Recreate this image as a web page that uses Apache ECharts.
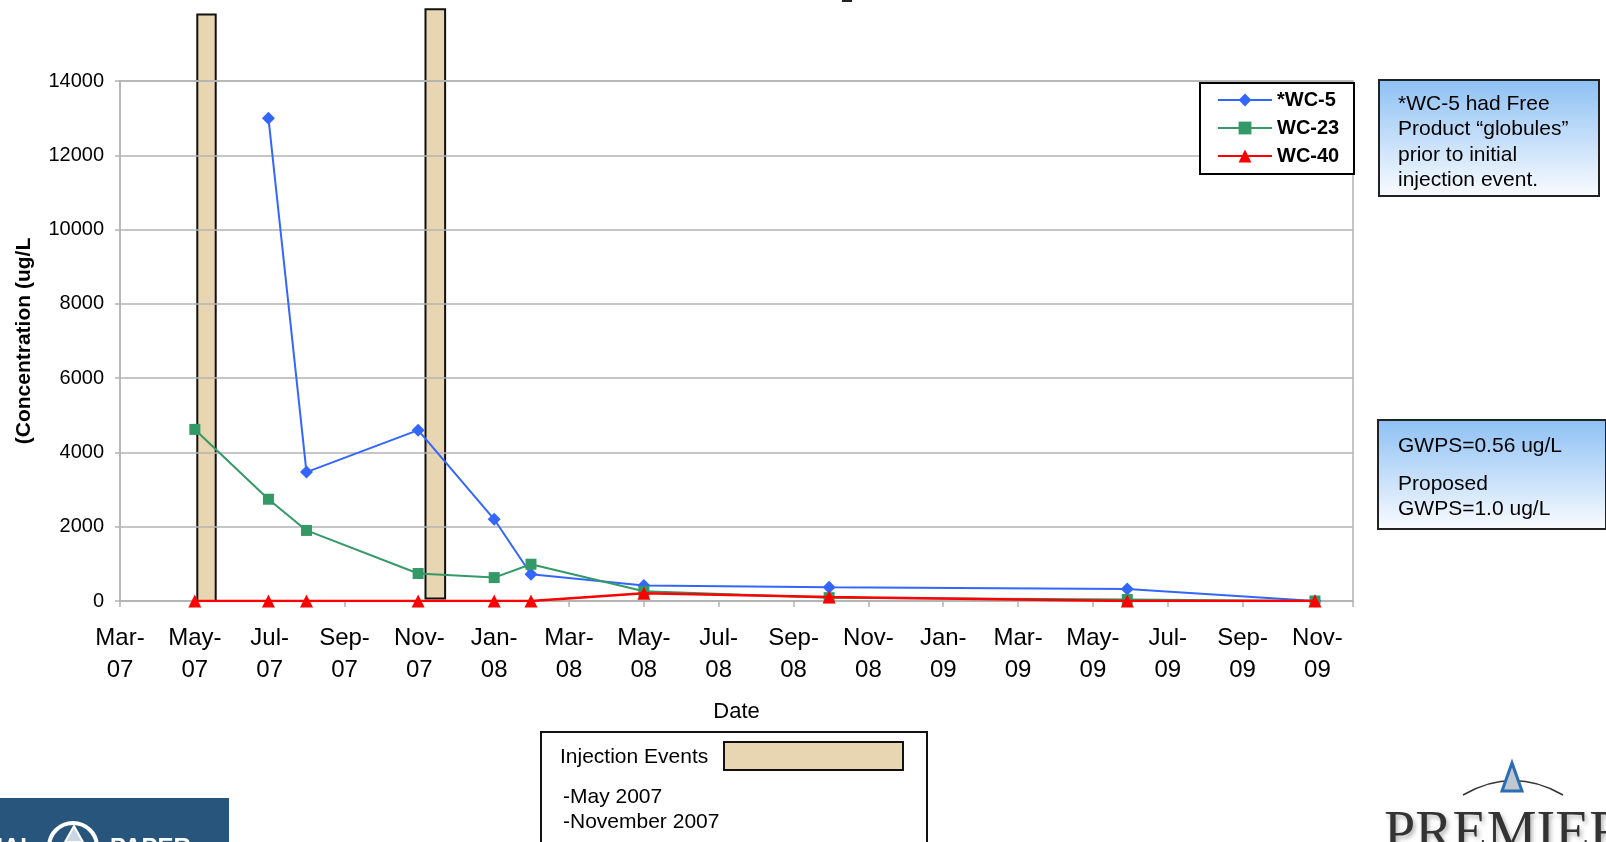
<!DOCTYPE html>
<html>
<head>
<meta charset="utf-8">
<script src="https://cdn.jsdelivr.net/npm/echarts@6/dist/echarts.min.js"></script>
<style>
  html, body { margin: 0; padding: 0; background: #ffffff; }
  #chart { width: 1606px; height: 842px; }
</style>
</head>
<body>
<div id="chart"></div>
<script>
// Sampling dates shared by the three monitoring wells
const sampleDates = ['2007-05-01', '2007-06-30', '2007-07-31', '2007-10-30', '2007-12-31',
                     '2008-01-30', '2008-05-01', '2008-09-29', '2009-05-30', '2009-10-30'];
const seriesNames = ['*WC-5', 'WC-23', 'WC-40'];
const wc5Values  = [null, 13000, 3470, 4600, 2200, 720, 420, 370, 320, 0];
const wc23Values = [4620, 2740, 1900, 740, 630, 990, 260, 90, 40, 0];
const wc40Values = [0, 0, 0, 0, 0, 0, 210, 110, 0, 0];

// Two-month ticks starting March 2007
const xTickLabels = ['Mar-07', 'May-07', 'Jul-07', 'Sep-07', 'Nov-07', 'Jan-08', 'Mar-08', 'May-08',
                     'Jul-08', 'Sep-08', 'Nov-08', 'Jan-09', 'Mar-09', 'May-09', 'Jul-09', 'Sep-09', 'Nov-09'];
const yMin = 0, yMax = 14000, yStep = 2000;

// Injection events (May 2007, November 2007): date span and concentration span of each column
const injectionStart = ['2007-05-03', '2007-11-05'];
const injectionEnd   = ['2007-05-18', '2007-11-21'];
const injectionLow   = [0, 70];
const injectionHigh  = [15790, 15930];

const ORIGIN = Date.UTC(2007, 2, 1);
const TICK_DAYS = 61;           // 976 days Mar-07 .. Nov-09 split into 16 two-month steps
const AXIS_END_DAYS = 1005;

function dayOf(s) {
  const p = s.split('-').map(Number);
  return (Date.UTC(p[0], p[1] - 1, p[2]) - ORIGIN) / 86400000;
}
function pairs(values) {
  return sampleDates.map((d, i) => [dayOf(d), values[i]]);
}

const FONT = 'Liberation Sans, Arial, sans-serif';
const TAN = '#E8D5B1';
function noteFill() {
  return new echarts.graphic.LinearGradient(0, 0, 0, 1, [
    { offset: 0, color: '#8DC0F4' },
    { offset: 1, color: '#FAFCFF' }
  ]);
}

const chart = echarts.init(document.getElementById('chart'), null, { renderer: 'canvas' });

chart.setOption({
  animation: false,
  backgroundColor: '#ffffff',
  grid: {
    left: 120, right: 253, top: 81, bottom: 241,
    show: true, borderColor: '#B3B3B3', borderWidth: 1.5, backgroundColor: 'transparent'
  },
  legend: {
    orient: 'vertical',
    left: 1212, top: 85,
    itemWidth: 54, itemHeight: 16, itemGap: 8,
    data: seriesNames,
    textStyle: { fontFamily: FONT, fontWeight: 'bold', fontSize: 20, color: '#000' },
    z: 10
  },
  xAxis: {
    type: 'value',
    min: 0, max: AXIS_END_DAYS, interval: TICK_DAYS,
    name: 'Date', nameLocation: 'middle', nameGap: 100,
    nameTextStyle: { fontFamily: FONT, fontSize: 22, color: '#000' },
    axisLine: { show: true, lineStyle: { color: '#B3B3B3', width: 1.5 } },
    axisTick: { show: true, length: 6, lineStyle: { color: '#B3B3B3', width: 1.5 } },
    splitLine: { show: false },
    axisLabel: {
      margin: 21, fontFamily: FONT, fontSize: 24, lineHeight: 32, color: '#000',
      showMaxLabel: true,
      formatter: function (v) {
        const k = Math.round(v / TICK_DAYS);
        if (Math.abs(v - k * TICK_DAYS) > 0.01 || !xTickLabels[k]) return '';
        return xTickLabels[k].replace('-', '-\n');
      }
    }
  },
  yAxis: {
    type: 'value',
    min: yMin, max: yMax, interval: yStep,
    name: '(Concentration (ug/L', nameLocation: 'middle', nameGap: 85,
    nameTextStyle: { fontFamily: FONT, fontSize: 21, fontWeight: 'bold', color: '#000' },
    axisLine: { show: true, lineStyle: { color: '#B3B3B3', width: 1.5 } },
    axisTick: { show: true, length: 5, lineStyle: { color: '#B3B3B3', width: 1.5 } },
    splitLine: { show: true, lineStyle: { color: '#B3B3B3', width: 1.5 } },
    axisLabel: { margin: 16, fontFamily: FONT, fontSize: 20, color: '#000',
                 formatter: function (v) { return String(v); } }
  },
  series: [
    {
      name: 'Injection Events',
      type: 'custom',
      z: -1,
      clip: false,
      encode: { x: [0, 1], y: [2, 3] },
      data: injectionStart.map((s, i) => [dayOf(s), dayOf(injectionEnd[i]), injectionLow[i], injectionHigh[i]]),
      renderItem: function (params, api) {
        const a = api.coord([api.value(0), api.value(3)]);
        const b = api.coord([api.value(1), api.value(2)]);
        return {
          type: 'rect',
          shape: { x: a[0], y: a[1], width: b[0] - a[0], height: b[1] - a[1] },
          style: { fill: TAN, stroke: '#111', lineWidth: 2 }
        };
      }
    },
    {
      name: seriesNames[0], type: 'line', data: pairs(wc5Values),
      symbol: 'diamond', symbolSize: 13, z: 3,
      itemStyle: { color: '#3366FF' }, lineStyle: { color: '#3366FF', width: 2 }
    },
    {
      name: seriesNames[1], type: 'line', data: pairs(wc23Values),
      symbol: 'rect', symbolSize: 11, z: 4,
      itemStyle: { color: '#339966' }, lineStyle: { color: '#339966', width: 2 }
    },
    {
      name: seriesNames[2], type: 'line', data: pairs(wc40Values),
      symbol: 'triangle', symbolSize: 13, z: 5,
      itemStyle: { color: '#FF0000' }, lineStyle: { color: '#FF0000', width: 2.5 }
    }
  ],
  graphic: [
    // fragment of the heading cut off by the top edge
    { type: 'rect', z: 1, shape: { x: 842, y: 0, width: 10, height: 2 }, style: { fill: '#222' } },

    // legend frame
    { type: 'rect', z: 6, shape: { x: 1200, y: 83, width: 154, height: 91 },
      style: { fill: '#ffffff', stroke: '#000', lineWidth: 2 } },

    // note on WC-5
    { type: 'rect', z: 6, shape: { x: 1379, y: 80, width: 220, height: 116 },
      style: { fill: noteFill(), stroke: '#222', lineWidth: 2 } },
    { type: 'text', z: 7, x: 1398, y: 91,
      style: { text: '*WC-5 had Free\nProduct \u201Cglobules\u201D\nprior to initial\ninjection event.',
               font: '21px ' + FONT, fill: '#000', lineHeight: 25.6, verticalAlign: 'top' } },

    // groundwater protection standard note
    { type: 'rect', z: 6, shape: { x: 1378, y: 420, width: 228, height: 109 },
      style: { fill: noteFill(), stroke: '#222', lineWidth: 2 } },
    { type: 'text', z: 7, x: 1398, y: 446,
      style: { text: 'GWPS=0.56 ug/L', font: '21px ' + FONT, fill: '#000', verticalAlign: 'middle' } },
    { type: 'text', z: 7, x: 1398, y: 472,
      style: { text: 'Proposed\nGWPS=1.0 ug/L', font: '21px ' + FONT, fill: '#000', lineHeight: 24.5, verticalAlign: 'top' } },

    // injection events key
    { type: 'rect', z: 6, shape: { x: 541, y: 732, width: 386, height: 130 },
      style: { fill: '#ffffff', stroke: '#111', lineWidth: 2 } },
    { type: 'text', z: 7, x: 560, y: 757,
      style: { text: 'Injection Events', font: '21px ' + FONT, fill: '#000', verticalAlign: 'middle' } },
    { type: 'rect', z: 7, shape: { x: 724, y: 742, width: 179, height: 28 },
      style: { fill: TAN, stroke: '#111', lineWidth: 2 } },
    { type: 'text', z: 7, x: 563, y: 784.5,
      style: { text: '-May 2007\n-November 2007', font: '21px ' + FONT, fill: '#000', lineHeight: 25, verticalAlign: 'top' } },

    // company mark, lower left
    { type: 'rect', z: 6, shape: { x: 0, y: 798, width: 229, height: 44 }, style: { fill: '#27557B' } },
    { type: 'circle', z: 7, shape: { cx: 73, cy: 847, r: 24 }, style: { fill: 'none', stroke: '#ffffff', lineWidth: 4 } },
    { type: 'polygon', z: 7, shape: { points: [[74, 826], [65, 842], [83, 842]] },
      style: { fill: '#C9D6E3', stroke: '#ffffff', lineWidth: 2 } },
    { type: 'text', z: 7, x: 35, y: 848,
      style: { text: 'INTERNATIONAL', font: 'bold 24px ' + FONT, fill: '#ffffff', align: 'right', verticalAlign: 'middle' } },
    { type: 'text', z: 7, x: 110, y: 848,
      style: { text: 'PAPER', font: 'bold 24px ' + FONT, fill: '#ffffff', verticalAlign: 'middle' } },

    // company mark, lower right
    { type: 'bezierCurve', z: 7, shape: { x1: 1463, y1: 795, x2: 1563, y2: 795, cpx1: 1513, cpy1: 766 },
      style: { fill: 'none', stroke: '#333', lineWidth: 1.5 } },
    { type: 'polygon', z: 7, shape: { points: [[1512, 763], [1502, 791], [1522, 791]] },
      style: { fill: '#BFC7D0', stroke: '#2A6DB5', lineWidth: 3 } },
    { type: 'text', z: 7, x: 1384, y: 835,
      style: { text: 'PREMIER', font: '56px Liberation Serif, Times New Roman, serif', fill: '#333',
               verticalAlign: 'middle', textShadowColor: 'rgba(0,0,0,0.3)', textShadowBlur: 4,
               textShadowOffsetX: 2, textShadowOffsetY: 3 } }
  ]
});
</script>
</body>
</html>
